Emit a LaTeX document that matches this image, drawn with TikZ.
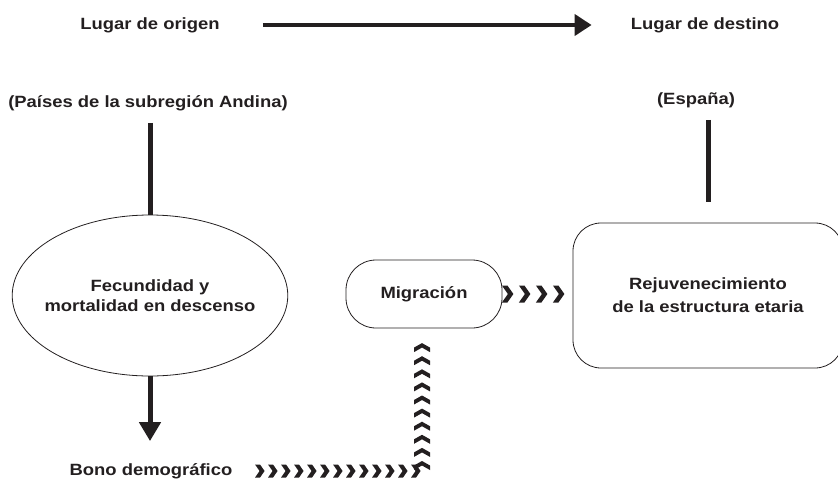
\documentclass[tikz,border=0pt]{standalone}
\usepackage{fontspec}
\setmainfont{Liberation Sans}[FakeStretch=1.13]
\usepackage{tikz}
\usetikzlibrary{positioning,shapes.geometric,arrows.meta,decorations.markings}
\definecolor{ink}{HTML}{231F20}

% filled chevron: arm depth, half height, thickness
\newcommand{\chevmark}[3]{\fill[ink] (-#1,#2) -- (0pt,0pt) -- (-#1,-#2) -- ({-#1-#3},-#2) -- (-#3,0pt) -- ({-#1-#3},#2) -- cycle;}

\begin{document}
\begin{tikzpicture}[x=1pt, y=-1pt,
every node/.style={font=\bfseries\fontsize{16.3}{20}\selectfont, text=ink, inner sep=0pt},
ovalnode/.style={ellipse, draw=ink, line width=0.8pt, inner xsep=-8pt, minimum width=274pt, minimum height=161pt, align=center},
pillnode/.style={rectangle, draw=ink, line width=0.8pt, rounded corners=30pt, minimum width=156pt, minimum height=68pt},
boxnode/.style={rectangle, draw=ink, line width=0.8pt, rounded corners=28pt, minimum width=270pt, minimum height=145pt, align=center, font=\bfseries\fontsize{16.3}{23}\selectfont},
bar/.style={ink, line width=5pt},
chevrow/.style={decoration={markings, mark=between positions 32pt and -1pt step 13pt with {\chevmark{4.5pt}{6.5pt}{5pt}}}, decorate},
chevcol/.style={decoration={markings, mark=between positions 10pt and -12pt step 13.1pt with {\chevmark{4.5pt}{8pt}{4.5pt}}}, decorate},
chevbig/.style={decoration={markings, mark=between positions 11pt and -8pt step 17pt with {\chevmark{6pt}{8.5pt}{5.5pt}}}, decorate},
]
\useasboundingbox (0,0) rectangle (838,485);

%Nodes
\node (orig)   at (150,25)    {Lugar de origen};
\node (dest)   at (705,25)    {Lugar de destino};
\node (andina) at (148,103)   {(Países de la subregión Andina)};
\node (espana) at (696,100)   {(España)};
\node[ovalnode] (fec)   at (150,295.5) {Fecundidad y\\mortalidad en descenso};
\node[pillnode] (mig)   at (424,294)   {Migración};
\node[boxnode]  (rejuv) at (708,295.5) {Rejuvenecimiento\\de la estructura etaria};
\node (bono)   at (151,471)   {Bono demográfico};
\coordinate (turn) at (422,469);

%Lines
\draw[ink, line width=4pt, -{Triangle[length=17pt,width=21pt]}, shorten <=43pt, shorten >=39pt] (orig.east) -- (dest.west);
\draw[bar, shorten <=12pt] (fec.north |- andina.south) -- (fec.north);
\draw[bar, shorten <=12pt, shorten >=21pt] (rejuv.north |- espana.south) -- (rejuv.north);
\draw[bar, -{Triangle[length=19pt,width=21pt]}, shorten >=22pt] (fec.south) -- (fec.south |- bono.north);

%Chevrons
\path[chevrow] (bono.east) -- (turn |- bono.east);
\path[chevcol] (turn |- bono.east) -- (turn |- mig.south);
\path[chevbig] (mig.east) -- (mig.east -| rejuv.west);
\end{tikzpicture}
\end{document}
